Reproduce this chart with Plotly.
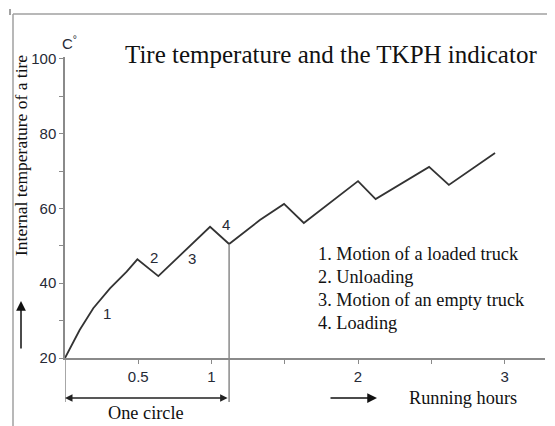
import plotly.graph_objects as go

# ---- data ----
time_hours = [0, 0.10, 0.193, 0.307, 0.421, 0.494, 0.637, 0.99, 1.12, 1.33, 1.495, 1.63, 2.0, 2.12, 2.485, 2.62, 2.935]
temp_c = [20, 27.5, 33.3, 38.6, 43.1, 46.4, 41.9, 55.1, 50.5, 56.9, 61.2, 56.1, 67.3, 62.5, 71.1, 66.3, 74.8]

phase_labels = ["1", "2", "3", "4"]
phase_x = [0.29, 0.61, 0.87, 1.10]
phase_y = [32.0, 46.8, 46.6, 55.6]

legend_lines = ["1. Motion of a loaded truck", "2. Unloading", "3. Motion of an empty truck", "4. Loading"]

x_tick_vals = [0.5, 1, 1.5, 2, 2.5, 3]
x_tick_text = ["0.5", "1", "", "2", "", "3"]
y_tick_vals = [20, 30, 40, 50, 60, 70, 80, 90, 100]
y_tick_text = ["20", "", "40", "", "60", "", "80", "", "100"]

cycle_end = 1.12
cycle_end_temp = 50.5

X_RANGE = [0, 3.276]
Y_RANGE = [20, 100.5]

# page body has an 8px margin, so the figure starts at (8, 8) in the window
OFF = 8
W, H = 555 - OFF, 426 - OFF
ML, MR, MT, MB = 65 - OFF, 10, 57 - OFF, 68
PW, PH = W - ML - MR, H - MT - MB


def px_to_paper_x(px):  # px in window coordinates
    return (px - OFF - ML) / PW


def px_to_paper_y(py):
    return (H - MB - (py - OFF)) / PH


def data_to_paper_y(v):
    return (v - Y_RANGE[0]) / (Y_RANGE[1] - Y_RANGE[0])


AXIS_COL = "#8a8a8a"
TICK_FONT = dict(family="Liberation Sans, Arial, sans-serif", size=15, color="#262a36")
SERIF = "Liberation Serif, Times New Roman, serif"
TEXT_COL = "#111111"

fig = go.Figure()
fig.add_trace(go.Scatter(
    x=time_hours, y=temp_c, mode="lines",
    line=dict(color="#333333", width=1.8),
    hoverinfo="skip", showlegend=False, cliponaxis=False,
))

fig.update_layout(
    width=W, height=H,
    margin=dict(l=ML, r=MR, t=MT, b=MB),
    paper_bgcolor="white", plot_bgcolor="white",
    showlegend=False,
    xaxis=dict(range=X_RANGE, showgrid=False, zeroline=False, showline=True,
               linecolor=AXIS_COL, linewidth=1.5, ticks="outside", ticklen=4,
               tickcolor=AXIS_COL, tickvals=x_tick_vals, ticktext=x_tick_text,
               tickfont=TICK_FONT, fixedrange=True),
    yaxis=dict(range=Y_RANGE, showgrid=False, zeroline=False, showline=True,
               linecolor=AXIS_COL, linewidth=1.5, ticks="outside", ticklen=4,
               tickcolor=AXIS_COL, tickvals=y_tick_vals, ticktext=y_tick_text,
               tickfont=TICK_FONT, fixedrange=True),
)

shapes = []
# outer frame (top and left)
shapes.append(dict(type="line", xref="paper", yref="paper",
                   x0=px_to_paper_x(13), x1=px_to_paper_x(555),
                   y0=px_to_paper_y(14), y1=px_to_paper_y(14),
                   line=dict(color="#a0a0a0", width=1.5)))
shapes.append(dict(type="line", xref="paper", yref="paper",
                   x0=px_to_paper_x(13), x1=px_to_paper_x(13),
                   y0=px_to_paper_y(14), y1=px_to_paper_y(426),
                   line=dict(color="#a0a0a0", width=1.5)))
# small corner mark
shapes.append(dict(type="line", xref="paper", yref="paper",
                   x0=px_to_paper_x(10), x1=px_to_paper_x(10),
                   y0=px_to_paper_y(9), y1=px_to_paper_y(15),
                   line=dict(color="#444444", width=1)))
# vertical lines marking one cycle
shapes.append(dict(type="line", xref="x", yref="paper",
                   x0=0, x1=0, y0=px_to_paper_y(402), y1=0,
                   line=dict(color=AXIS_COL, width=1.5)))
shapes.append(dict(type="line", xref="x", yref="paper",
                   x0=cycle_end, x1=cycle_end, y0=px_to_paper_y(402),
                   y1=data_to_paper_y(cycle_end_temp),
                   line=dict(color=AXIS_COL, width=1.5)))
fig.update_layout(shapes=shapes)

ann = []
ann.append(dict(xref="paper", yref="paper", x=px_to_paper_x(331), y=px_to_paper_y(55),
                text="Tire temperature and the TKPH indicator", showarrow=False,
                font=dict(family=SERIF, size=25, color=TEXT_COL),
                xanchor="center", yanchor="middle"))
ann.append(dict(xref="paper", yref="paper", x=px_to_paper_x(21), y=px_to_paper_y(156),
                text="Internal temperature of a tire", showarrow=False, textangle=-90,
                font=dict(family=SERIF, size=17.5, color=TEXT_COL),
                xanchor="center", yanchor="middle"))
ann.append(dict(xref="paper", yref="paper", x=px_to_paper_x(60), y=px_to_paper_y(42),
                text="C<sup>°</sup>", showarrow=False,
                font=dict(family="Liberation Sans, Arial, sans-serif", size=15, color="#262a36"),
                xanchor="left", yanchor="middle"))
for t, x, y in zip(phase_labels, phase_x, phase_y):
    ann.append(dict(xref="x", yref="y", x=x, y=y, text=t, showarrow=False,
                    font=TICK_FONT, xanchor="center", yanchor="middle"))
for i, line in enumerate(legend_lines):
    ann.append(dict(xref="paper", yref="paper", x=px_to_paper_x(316),
                    y=px_to_paper_y(254 + 23 * i), text=line, showarrow=False,
                    font=dict(family=SERIF, size=18.3, color=TEXT_COL),
                    xanchor="left", yanchor="middle"))
ann.append(dict(xref="paper", yref="paper", x=px_to_paper_x(463), y=px_to_paper_y(398),
                text="Running hours", showarrow=False,
                font=dict(family=SERIF, size=18.3, color=TEXT_COL),
                xanchor="center", yanchor="middle"))
ann.append(dict(xref="paper", yref="paper", x=px_to_paper_x(146), y=px_to_paper_y(413),
                text="One circle", showarrow=False,
                font=dict(family=SERIF, size=18.3, color=TEXT_COL),
                xanchor="center", yanchor="middle"))
# one-circle double arrow
ann.append(dict(xref="x", yref="paper", axref="x", ayref="pixel",
                x=0, y=px_to_paper_y(398), ax=cycle_end, ay=0,
                text="", showarrow=True, arrowhead=2, arrowside="end+start",
                arrowsize=1, arrowwidth=1.5, arrowcolor="#222222"))
# running hours arrow
ann.append(dict(xref="paper", yref="paper", axref="pixel", ayref="pixel",
                x=px_to_paper_x(377), y=px_to_paper_y(398), ax=-48, ay=0,
                text="", showarrow=True, arrowhead=2, arrowsize=1.3,
                arrowwidth=1.5, arrowcolor="#111111"))
# temperature up arrow
ann.append(dict(xref="paper", yref="paper", axref="pixel", ayref="pixel",
                x=px_to_paper_x(21), y=px_to_paper_y(301), ax=0, ay=49,
                text="", showarrow=True, arrowhead=2, arrowsize=1.3,
                arrowwidth=1.5, arrowcolor="#111111"))
fig.update_layout(annotations=ann)

fig.write_html("out.html")
